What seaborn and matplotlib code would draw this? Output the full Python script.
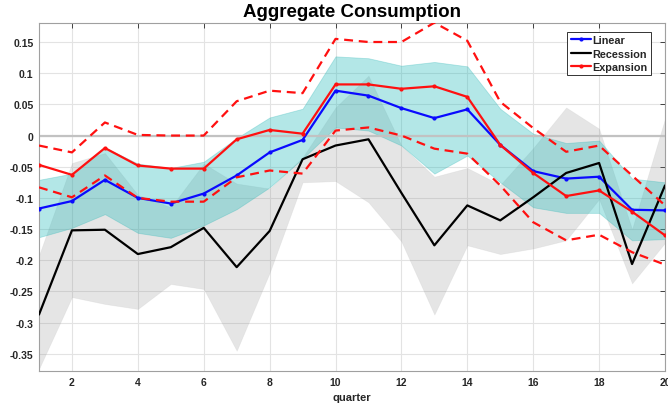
import numpy as np
import pandas as pd
import matplotlib
matplotlib.use("Agg")
import matplotlib.pyplot as plt
import seaborn as sns

quarter = [1, 2, 3, 4, 5, 6, 7, 8, 9, 10, 11, 12, 13, 14, 15, 16, 17, 18, 19, 20]
linear = [-0.117, -0.105, -0.071, -0.100, -0.109, -0.093, -0.064, -0.027, -0.007, 0.072,
          0.064, 0.044, 0.028, 0.042, -0.015, -0.057, -0.069, -0.066, -0.119, -0.120]
linear_upper = [-0.071, -0.061, -0.019, -0.045, -0.052, -0.042, -0.004, 0.029, 0.043, 0.127,
                0.124, 0.112, 0.118, 0.111, 0.043, 0.003, -0.012, -0.008, -0.069, -0.075]
linear_lower = [-0.163, -0.148, -0.126, -0.156, -0.164, -0.144, -0.118, -0.083, -0.037, 0.013,
                0.008, -0.016, -0.061, -0.032, -0.075, -0.115, -0.124, -0.124, -0.168, -0.166]
recession = [-0.287, -0.152, -0.151, -0.190, -0.179, -0.148, -0.211, -0.153, -0.038, -0.016,
             -0.006, -0.092, -0.176, -0.112, -0.136, -0.099, -0.060, -0.044, -0.206, -0.080]
recession_upper = [-0.192, -0.044, -0.028, -0.095, -0.115, -0.045, -0.077, -0.085, -0.035, 0.045,
                   0.096, -0.016, -0.066, -0.052, -0.079, -0.020, 0.045, 0.011, -0.150, 0.027]
recession_lower = [-0.374, -0.259, -0.270, -0.278, -0.238, -0.246, -0.345, -0.220, -0.075, -0.073,
                   -0.107, -0.170, -0.287, -0.176, -0.190, -0.181, -0.168, -0.102, -0.237, -0.172]
expansion = [-0.047, -0.063, -0.020, -0.048, -0.053, -0.053, -0.006, 0.009, 0.003, 0.082,
             0.082, 0.075, 0.079, 0.062, -0.015, -0.060, -0.097, -0.088, -0.122, -0.160]
expansion_upper = [-0.016, -0.027, 0.021, 0.001, 0.000, 0.000, 0.055, 0.072, 0.068, 0.155,
                   0.150, 0.150, 0.181, 0.152, 0.054, 0.012, -0.026, -0.016, -0.064, -0.112]
expansion_lower = [-0.083, -0.099, -0.064, -0.100, -0.106, -0.106, -0.067, -0.056, -0.061, 0.008,
                   0.013, 0.000, -0.021, -0.029, -0.080, -0.139, -0.168, -0.159, -0.187, -0.207]

xticks = [2, 4, 6, 8, 10, 12, 14, 16, 18, 20]
yticks = [0.15, 0.1, 0.05, 0, -0.05, -0.1, -0.15, -0.2, -0.25, -0.3, -0.35]
ytick_labels = ["0.15", "0.1", "0.05", "0", "-0.05", "-0.1", "-0.15", "-0.2", "-0.25", "-0.3", "-0.35"]

sns.set_theme(style="white")
plt.rcParams["font.family"] = ["Liberation Sans", "DejaVu Sans"]
plt.rcParams["font.weight"] = "bold"

df = pd.DataFrame({
    "quarter": quarter, "linear": linear, "recession": recession, "expansion": expansion,
    "exp_up": expansion_upper, "exp_lo": expansion_lower,
})

fig = plt.figure(figsize=(6.68, 4.10), dpi=100)
ax = fig.add_axes([39 / 668, 1 - 372.3 / 410, (665 - 39) / 668, (372.3 - 24.3) / 410])

# grid
ax.set_axisbelow(True)
ax.grid(True, color="#e3e3e3", linewidth=0.8)

# bands
ax.fill_between(quarter, recession_lower, recession_upper, facecolor=(0.5, 0.5, 0.5), alpha=0.2,
                edgecolor=(0.72, 0.72, 0.72), linewidth=0.5, zorder=2)
ax.fill_between(quarter, linear_lower, linear_upper, facecolor=(0.1, 0.72, 0.72), alpha=0.33,
                edgecolor=(0.2, 0.72, 0.72), linewidth=0.6, zorder=2)

# zero line
ax.axhline(0, color="#c2c2c2", linewidth=1.6, zorder=2.5)

# lines
sns.lineplot(data=df, x="quarter", y="linear", ax=ax, color="#0a0aff", linewidth=1.6,
             marker="o", markersize=3, markeredgewidth=0, label="Linear", zorder=4)
sns.lineplot(data=df, x="quarter", y="recession", ax=ax, color="black", linewidth=1.6,
             label="Recession", zorder=4)
sns.lineplot(data=df, x="quarter", y="expansion", ax=ax, color="#ff1010", linewidth=1.6,
             marker="o", markersize=3, markeredgewidth=0, label="Expansion", zorder=5)
sns.lineplot(data=df, x="quarter", y="exp_up", ax=ax, color="#ff1010", linewidth=1.6,
             dashes=False, label="_nolegend_", zorder=5).lines[-1].set_dashes((4, 2.6))
sns.lineplot(data=df, x="quarter", y="exp_lo", ax=ax, color="#ff1010", linewidth=1.6,
             dashes=False, label="_nolegend_", zorder=5).lines[-1].set_dashes((4, 2.6))

ax.set_xlim(1, 20)
ax.set_ylim(-0.378, 0.18)
ax.set_xticks(xticks)
ax.set_xticklabels([str(t) for t in xticks])
ax.set_yticks(yticks)
ax.set_yticklabels(ytick_labels)
ax.tick_params(axis="both", direction="in", length=3.5, width=0.6, colors="#262626",
               labelsize=7.5, top=True, right=True, pad=4)
for lbl in ax.get_xticklabels() + ax.get_yticklabels():
    lbl.set_fontweight("bold")
for s in ax.spines.values():
    s.set_color("#a0a0a0")
    s.set_linewidth(0.8)

ax.set_xlabel("quarter", fontsize=8, fontweight="bold", color="#262626", labelpad=4)
ax.set_ylabel("")
ax.set_title("Aggregate Consumption", fontsize=13.5, fontweight="bold", color="black", pad=5)

handles, labels = ax.get_legend_handles_labels()
leg = ax.legend(handles[:3], labels[:3], loc="upper right", bbox_to_anchor=(0.977, 0.975),
                fontsize=7.8, frameon=True, fancybox=False, framealpha=1,
                edgecolor="#333333", borderpad=0.3, labelspacing=0.3, handlelength=1.9,
                handletextpad=0.1, borderaxespad=0)
leg.get_frame().set_linewidth(0.7)
for t in leg.get_texts():
    t.set_fontweight("bold")

fig.savefig("out.png", dpi=100)
